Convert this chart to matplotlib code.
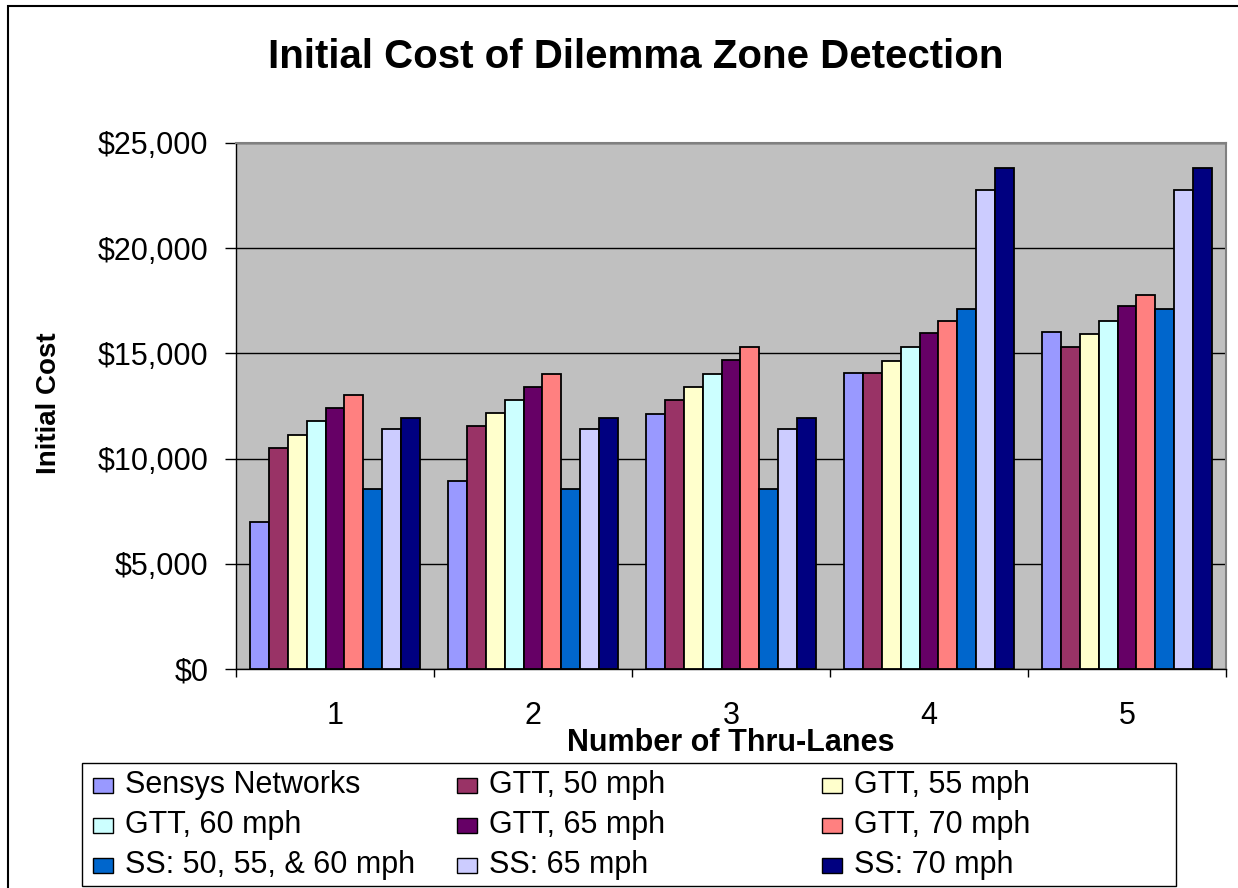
import numpy as np
import matplotlib
matplotlib.use('Agg')
import matplotlib.pyplot as plt
from matplotlib.patches import Rectangle
from matplotlib.ticker import FuncFormatter, FixedLocator

plt.rcParams['font.family'] = ['Liberation Sans', 'DejaVu Sans']

# data
lanes = ['1', '2', '3', '4', '5']
series = ['Sensys Networks', 'GTT, 50 mph', 'GTT, 55 mph',
          'GTT, 60 mph', 'GTT, 65 mph', 'GTT, 70 mph',
          'SS: 50, 55, & 60 mph', 'SS: 65 mph', 'SS: 70 mph']
sensys = [7000, 8950, 12100, 14080, 16000]
gtt50 = [10500, 11540, 12780, 14080, 15320]
gtt55 = [11120, 12160, 13400, 14640, 15940]
gtt60 = [11790, 12780, 14010, 15320, 16560]
gtt65 = [12400, 13400, 14700, 15950, 17250]
gtt70 = [13010, 14020, 15300, 16560, 17790]
ss_50_60 = [8550, 8550, 8550, 17110, 17110]
ss65 = [11410, 11410, 11410, 22750, 22750]
ss70 = [11910, 11910, 11910, 23800, 23800]
values = [sensys, gtt50, gtt55, gtt60, gtt65, gtt70, ss_50_60, ss65, ss70]
colors = ['#9999FF', '#993366', '#FFFFCC', '#CCFFFF', '#660066',
          '#FF8080', '#0066CC', '#CCCCFF', '#000080']

W, H = 1238, 888
fig = plt.figure(figsize=(W / 100, H / 100), dpi=100)

def fx(px):
    return px / W

def fy(py):
    return 1 - py / H

# outer chart border (left and top visible)
fig.patches.append(Rectangle((fx(8), fy(892)), fx(1245) - fx(8), fy(6) - fy(892),
                             transform=fig.transFigure, fill=False,
                             edgecolor='black', lw=1.5))

ax = fig.add_axes([fx(236), fy(669), fx(1226) - fx(236), fy(143) - fy(669)])
ax.set_facecolor('#C0C0C0')

x = np.arange(1, len(lanes) + 1)
bw = 0.0955
n = len(series)
for i, (vals, c) in enumerate(zip(values, colors)):
    off = (i - (n - 1) / 2) * bw
    ax.bar(x + off, vals, width=bw, color=c, edgecolor='black', lw=1.3,
           label=series[i], zorder=3)

ax.set_xlim(0.5, 5.5)
ax.set_ylim(0, 25000)
ax.set_yticks(np.arange(0, 25001, 5000))
ax.yaxis.set_major_formatter(FuncFormatter(lambda v, p: '${:,.0f}'.format(v)))
ax.yaxis.grid(True, color='black', lw=1)
ax.set_axisbelow(True)

ax.set_xticks(x)
ax.set_xticklabels(lanes)
ax.xaxis.set_minor_locator(FixedLocator(np.arange(0.5, 5.6, 1)))
ax.tick_params(axis='x', which='major', length=0, labelsize=22, pad=23)
ax.tick_params(axis='x', which='minor', length=6, width=1, direction='out')
ax.tick_params(axis='y', length=8, width=1, direction='out', labelsize=22, pad=12)

for s in ['top', 'right']:
    ax.spines[s].set_color('#808080')
    ax.spines[s].set_linewidth(1.5)
for s in ['left', 'bottom']:
    ax.spines[s].set_color('black')
    ax.spines[s].set_linewidth(1)

fig.text(fx(636), fy(57), 'Initial Cost of Dilemma Zone Detection',
         ha='center', va='center', fontsize=29, fontweight='bold')
fig.text(fx(731), fy(743), 'Number of Thru-Lanes', ha='center', va='center',
         fontsize=22, fontweight='bold')
fig.text(fx(49), fy(403), 'Initial Cost', ha='center', va='center',
         fontsize=20, fontweight='bold', rotation=90)

# legend box, filled row by row like the original
fig.patches.append(Rectangle((fx(82), fy(886)), fx(1176) - fx(82), fy(763) - fy(886),
                             transform=fig.transFigure, fill=True, facecolor='white',
                             edgecolor='black', lw=1))
col_x = [93, 457, 822]
row_y = [785, 825, 865]
for i, (lab, c) in enumerate(zip(series, colors)):
    r, k = divmod(i, 3)
    mx, my = col_x[k], row_y[r]
    fig.patches.append(Rectangle((fx(mx), fy(my + 8)), fx(20), 15 / H,
                                 transform=fig.transFigure, facecolor=c,
                                 edgecolor='black', lw=1))
    fig.text(fx(mx + 32), fy(my), lab, ha='left', va='center', fontsize=22)

fig.savefig('out.png', dpi=100)
